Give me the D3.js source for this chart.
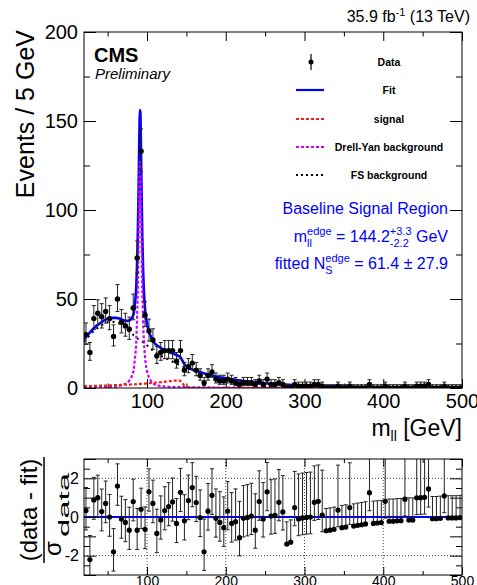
<html>
<head>
<script src="https://d3js.org/d3.v7.min.js"></script>
<style>
    html, body { margin: 0; padding: 0; background: #fff; }
    svg { display: block; font-family: "Liberation Sans", Arial, Helvetica, sans-serif; }
    text { white-space: pre; }
</style>
</head>
<body>
<script>
    var width = 477;
    var height = 585;

    // 5 GeV bins from 20 to 500 GeV
    var binWidth = 5;
    var binCenters = d3.range(20 + binWidth / 2, 500, binWidth);

    // observed events per bin
    var dataCounts = [30, 20, 39, 42, 40, 43, 39, 29, 50, 37,
                      35, 33, 45, 73, 133, 41, 32, 27, 18, 20,
                      21, 21, 21, 15, 21, 10, 12, 14, 10, 7,
                      3, 7, 9, 5, 4, 4, 5, 4, 3, 2,
                      3, 3, 3, 2, 4, 2, 5, 2, 2, 3,
                      2, 0, 0, 2, 1, 1, 1, 1, 2, 2,
                      1, 0, 0, 0, 1, 0, 0, 1, 0, 0,
                      0, 0, 2, 0, 0, 0, 1, 0, 0, 0,
                      0, 1, 0, 0, 1, 1, 1, 2, 0, 0,
                      0, 1, 0, 0, 0, 0];

    // (data - fit) / sigma_data per bin
    var pulls = [0.33, -2.2, 0.88, 1.0, 0.28, 0.7, 0.0, -1.8, 1.6, -0.1,
                 -0.28, -0.68, 0.8, -0.68, 0.4, -0.64, 1.3, 0.7, -0.85, -0.15,
                 0.33, 0.54, 0.78, -0.33, 1.28, -0.2, 0.85, 1.52, 0.75, -0.03,
                 -1.8, 0.3, 1.12, -0.07, -0.28, -0.55, 0.31, -0.33, -0.24, -1.07,
                 -0.07, -0.02, 0.05, -0.68, 0.8, -0.1, 1.3, 0.05, 0.09, 0.76,
                 0.26, -1.4, -1.3, 0.48, -0.1, -0.05, -0.02, 0.0, 0.76, 0.81,
                 0.1, -0.71, -0.68, -0.64, 0.36, -0.55, -0.52, 0.48, -0.47, -0.43,
                 -0.4, -0.36, 1.26, -0.33, -0.31, -0.29, 0.81, -0.22, -0.22, -0.2,
                 -0.19, 0.92, -0.16, -0.16, 0.99, 1.0, 1.02, 1.45, -0.09, -0.09,
                 -0.07, 1.09, -0.05, -0.05, -0.05, -0.03];

    // fit curves sampled along m_ll
    var curveMass = [20, 25, 30, 35, 40, 45, 50, 55, 60, 65,
                     70, 75, 78, 81, 83, 85, 86, 87, 88, 89,
                     90, 90.5, 91, 91.5, 92, 93, 94, 95, 96, 97,
                     98, 100, 102, 105, 110, 115, 120, 125, 130, 135,
                     140, 142, 144, 146, 148, 150, 155, 160, 170, 180,
                     190, 200, 220, 240, 260, 280, 300, 325, 350, 375,
                     400, 425, 450, 475, 500];
    var fitCurve = [27.3, 29.9, 32.5, 34.6, 36.2, 37.8, 38.9, 39.4, 39.4, 39.1,
                    38.1, 37.7, 38.1, 39.4, 41.7, 48.9, 53.5, 64.3, 79, 101.7,
                    133.5, 147.4, 156.2, 155.1, 146, 113.8, 85.5, 67.1, 54.9, 47.5,
                    42.2, 36.1, 32.4, 28.8, 25, 23.3, 21.8, 20.9, 19.8, 19,
                    18, 17.4, 16.2, 14.6, 13.1, 12.2, 10.9, 10, 8.55, 7.3,
                    6.25, 5.4, 4.05, 3.12, 2.4, 1.83, 1.4, 0.99, 0.69, 0.48,
                    0.33, 0.23, 0.16, 0.11, 0.08];
    var signalCurve = [1.0, 1.05, 1.1, 1.2, 1.3, 1.35, 1.4, 1.5, 1.6, 1.7,
                       1.8, 1.9, 1.95, 2.0, 2.05, 2.1, 2.1, 2.15, 2.2, 2.2,
                       2.25, 2.25, 2.3, 2.3, 2.3, 2.35, 2.4, 2.4, 2.45, 2.5,
                       2.5, 2.6, 2.7, 2.8, 3.0, 3.2, 3.4, 3.65, 3.9, 4.15,
                       4.3, 4.1, 3.3, 2.1, 1.0, 0.4, 0.08, 0.02, 0, 0,
                       0, 0, 0, 0, 0, 0, 0, 0, 0, 0,
                       0, 0, 0, 0, 0];
    var dyCurve = [0.3, 0.3, 0.35, 0.35, 0.4, 0.45, 0.5, 0.6, 0.8, 1.2,
                   1.8, 3, 4.5, 7, 10, 18, 23, 34, 49, 72,
                   104, 118, 127, 126, 117, 85, 57, 39, 27, 20,
                   15, 9.5, 6.5, 4, 2, 1.3, 0.9, 0.75, 0.6, 0.55,
                   0.5, 0.5, 0.48, 0.47, 0.46, 0.45, 0.42, 0.4, 0.35, 0.3,
                   0.25, 0.2, 0.15, 0.12, 0.1, 0.08, 0.05, 0.04, 0.03, 0.02,
                   0.02, 0.01, 0.01, 0.01, 0.01];
    var fsCurve = [26, 28.5, 31, 33, 34.5, 36, 37, 37.3, 37, 36.2,
                   34.5, 32.8, 31.6, 30.4, 29.6, 28.8, 28.4, 28.1, 27.8, 27.5,
                   27.2, 27.1, 26.9, 26.8, 26.7, 26.4, 26.1, 25.7, 25.4, 25.0,
                   24.7, 24, 23.2, 22, 20, 18.8, 17.5, 16.5, 15.3, 14.3,
                   13.2, 12.8, 12.4, 12.0, 11.6, 11.3, 10.4, 9.6, 8.2, 7.0,
                   6.0, 5.2, 3.9, 3.0, 2.3, 1.75, 1.35, 0.95, 0.66, 0.46,
                   0.32, 0.22, 0.15, 0.1, 0.07];

    var xTicksMajor = [100, 200, 300, 400, 500];
    var xTicksMinor = [50, 150, 250, 350, 450];
    var yTicksMajor = [0, 50, 100, 150, 200];
    var yTicksMinor = [25, 75, 125, 175];
    var ratioTicksMajor = [-3, -2, -1, 0, 1, 2, 3];
    var ratioTicksMinor = [-2.5, -1.5, -0.5, 0.5, 1.5, 2.5];
    var ratioGridY = [-2, 2];
    var ratioGridX = [100, 200, 300, 400];

    var legendLabels = ["Data", "Fit", "signal", "Drell-Yan background", "FS background"];

    var BLUE = "#0000ff", RED = "#ff1a1a", VIOLET = "#cc00ff";

    var svg = d3.select("body").append("svg")
        .attr("width", width)
        .attr("height", height);

    var x = d3.scaleLinear().domain([20, 500]).range([84, 462]);
    var y = d3.scaleLinear().domain([0, 200]).range([388, 32]);
    var yr = d3.scaleLinear().domain([-3, 3]).range([575, 459]);

    var defs = svg.append("defs");
    defs.append("clipPath").attr("id", "clipMain").append("rect")
        .attr("x", 84).attr("y", 32).attr("width", 378).attr("height", 356);
    defs.append("clipPath").attr("id", "clipRatio").append("rect")
        .attr("x", 84).attr("y", 459).attr("width", 378).attr("height", 116);

    // poisson-ish error bars (Gehrels approximation)
    function errHi(n) { return 1 + Math.sqrt(n + 0.75); }
    function errLo(n) { return n > 0 ? Math.sqrt(n - 0.25) : 0; }

    function styleAxis(g, size) {
        g.select(".domain").remove();
        g.selectAll("line").attr("stroke", "#000");
        g.selectAll("text")
            .attr("font-family", "Liberation Sans, Arial, sans-serif")
            .attr("font-size", size)
            .attr("fill", "#000");
    }

    // ---------- main plot ----------
    var main = svg.append("g");

    // axes (ticks pointing inward)
    main.append("g").attr("transform", "translate(0,388)")
        .call(d3.axisBottom(x).tickValues(xTicksMajor).tickSize(-9).tickPadding(6))
        .call(styleAxis, 20);
    main.append("g").attr("transform", "translate(0,388)")
        .call(d3.axisBottom(x).tickValues(xTicksMinor).tickSize(-4.5).tickFormat(""))
        .call(styleAxis, 20);
    main.append("g").attr("transform", "translate(0,32)")
        .call(d3.axisTop(x).tickValues(xTicksMajor).tickSize(-9).tickFormat(""))
        .call(styleAxis, 20);
    main.append("g").attr("transform", "translate(0,32)")
        .call(d3.axisTop(x).tickValues(xTicksMinor).tickSize(-4.5).tickFormat(""))
        .call(styleAxis, 20);
    main.append("g").attr("transform", "translate(84,0)")
        .call(d3.axisLeft(y).tickValues(yTicksMajor).tickSize(-12).tickPadding(6))
        .call(styleAxis, 20);
    main.append("g").attr("transform", "translate(84,0)")
        .call(d3.axisLeft(y).tickValues(yTicksMinor).tickSize(-6).tickFormat(""))
        .call(styleAxis, 20);
    main.append("g").attr("transform", "translate(462,0)")
        .call(d3.axisRight(y).tickValues(yTicksMajor).tickSize(-12).tickFormat(""))
        .call(styleAxis, 20);
    main.append("g").attr("transform", "translate(462,0)")
        .call(d3.axisRight(y).tickValues(yTicksMinor).tickSize(-6).tickFormat(""))
        .call(styleAxis, 20);

    var plotArea = main.append("g").attr("clip-path", "url(#clipMain)");

    function curveLine(values) {
        return d3.line()
            .x(function (d, i) { return x(curveMass[i]); })
            .y(function (d) { return y(d); })
            .curve(d3.curveMonotoneX)(values);
    }

    plotArea.append("path").attr("d", curveLine(fsCurve))
        .attr("fill", "none").attr("stroke", "#000").attr("stroke-width", 2)
        .attr("stroke-dasharray", "2,4");
    plotArea.append("path").attr("d", curveLine(fitCurve))
        .attr("fill", "none").attr("stroke", BLUE).attr("stroke-width", 2.6);
    plotArea.append("path").attr("d", curveLine(dyCurve))
        .attr("fill", "none").attr("stroke", VIOLET).attr("stroke-width", 2.2)
        .attr("stroke-dasharray", "3,2");
    plotArea.append("path").attr("d", curveLine(signalCurve))
        .attr("fill", "none").attr("stroke", RED).attr("stroke-width", 2.2)
        .attr("stroke-dasharray", "3,2");

    // data points
    var pts = plotArea.selectAll(".pt").data(dataCounts).enter().append("g");
    pts.append("line")
        .attr("x1", function (d, i) { return x(binCenters[i]); })
        .attr("x2", function (d, i) { return x(binCenters[i]); })
        .attr("y1", function (d) { return y(d + errHi(d)); })
        .attr("y2", function (d) { return y(d - errLo(d)); })
        .attr("stroke", "#222").attr("stroke-width", 1);
    pts.append("line")
        .attr("x1", function (d, i) { return x(binCenters[i]) - 2; })
        .attr("x2", function (d, i) { return x(binCenters[i]) + 2; })
        .attr("y1", function (d) { return y(d + errHi(d)); })
        .attr("y2", function (d) { return y(d + errHi(d)); })
        .attr("stroke", "#222").attr("stroke-width", 1);
    pts.append("line")
        .attr("x1", function (d, i) { return x(binCenters[i]) - 2; })
        .attr("x2", function (d, i) { return x(binCenters[i]) + 2; })
        .attr("y1", function (d) { return y(d - errLo(d)); })
        .attr("y2", function (d) { return y(d - errLo(d)); })
        .attr("stroke", "#222").attr("stroke-width", 1);
    pts.append("circle")
        .attr("cx", function (d, i) { return x(binCenters[i]); })
        .attr("cy", function (d) { return y(d); })
        .attr("r", 2.7).attr("fill", "#000");

    main.append("rect").attr("x", 84).attr("y", 32).attr("width", 378).attr("height", 356)
        .attr("fill", "none").attr("stroke", "#000").attr("stroke-width", 1);

    // rich text helper: pieces placed left to right, stacked sub/sup share x
    function richText(parent, pieces, xRight, baseline, color, weight) {
        var grp = parent.append("g");
        var cursor = 0, prevStart = 0;
        pieces.forEach(function (p) {
            var startX = p.stack ? prevStart : cursor;
            var t = grp.append("text")
                .attr("x", startX).attr("y", baseline + (p.dy || 0))
                .attr("font-size", p.size).attr("fill", color)
                .attr("font-weight", weight || "normal")
                .text(p.t);
            var w = t.node().getComputedTextLength();
            if (p.stack) {
                cursor = Math.max(cursor, startX + w);
            } else {
                prevStart = startX;
                cursor = startX + w;
            }
        });
        grp.attr("transform", "translate(" + (xRight - cursor) + ",0)");
        return grp;
    }

    // header texts
    richText(svg, [
        { t: "35.9 fb", size: 16 },
        { t: "-1", size: 11, dy: -6 },
        { t: " (13 TeV)", size: 16 }
    ], 470, 22, "#000");

    svg.append("text").attr("x", 94).attr("y", 62)
        .attr("font-size", 20).attr("font-weight", "bold").text("CMS");
    svg.append("text").attr("x", 95).attr("y", 79)
        .attr("font-size", 15).attr("font-style", "italic").text("Preliminary");

    // axis titles
    svg.append("text")
        .attr("transform", "translate(34,30) rotate(-90)")
        .attr("text-anchor", "end")
        .attr("font-size", 25)
        .text("Events / 5 GeV");

    richText(svg, [
        { t: "m", size: 23 },
        { t: "ll", size: 14, dy: 5 },
        { t: " [GeV]", size: 23 }
    ], 462, 436, "#000");

    // legend
    var legendY = [62, 90, 119, 147, 175];
    var leg = svg.append("g");
    leg.append("line").attr("x1", 311).attr("x2", 311)
        .attr("y1", legendY[0] - 8).attr("y2", legendY[0] + 8)
        .attr("stroke", "#000").attr("stroke-width", 1.2);
    leg.append("circle").attr("cx", 311).attr("cy", legendY[0]).attr("r", 2.5);
    leg.append("line").attr("x1", 296).attr("x2", 324).attr("y1", legendY[1]).attr("y2", legendY[1])
        .attr("stroke", BLUE).attr("stroke-width", 2.2);
    leg.append("line").attr("x1", 296).attr("x2", 324).attr("y1", legendY[2]).attr("y2", legendY[2])
        .attr("stroke", RED).attr("stroke-width", 2).attr("stroke-dasharray", "3,2");
    leg.append("line").attr("x1", 296).attr("x2", 324).attr("y1", legendY[3]).attr("y2", legendY[3])
        .attr("stroke", VIOLET).attr("stroke-width", 2).attr("stroke-dasharray", "3,2");
    leg.append("line").attr("x1", 296).attr("x2", 324).attr("y1", legendY[4]).attr("y2", legendY[4])
        .attr("stroke", "#000").attr("stroke-width", 2).attr("stroke-dasharray", "2,3");
    leg.selectAll(".lab").data(legendLabels).enter().append("text")
        .attr("x", 389)
        .attr("y", function (d, i) { return legendY[i] + 4; })
        .attr("text-anchor", "middle")
        .attr("font-size", 10.5)
        .attr("font-weight", "bold")
        .text(function (d) { return d; });

    // fit result text
    richText(svg, [{ t: "Baseline Signal Region", size: 16 }], 448, 214, BLUE);
    richText(svg, [
        { t: "m", size: 16 },
        { t: "ll", size: 11, dy: 5 },
        { t: "edge", size: 11, dy: -7, stack: true },
        { t: " = 144.2", size: 16 },
        { t: "+3.3", size: 11, dy: -7 },
        { t: "-2.2", size: 11, dy: 5, stack: true },
        { t: " GeV", size: 16 }
    ], 448, 242, BLUE);
    richText(svg, [
        { t: "fitted N", size: 16 },
        { t: "S", size: 11, dy: 5 },
        { t: "edge", size: 11, dy: -7, stack: true },
        { t: " = 61.4 \u00b1 27.9", size: 16 }
    ], 448, 269, BLUE);

    // ---------- ratio panel ----------
    var ratio = svg.append("g");

    ratio.selectAll(".gx").data(ratioGridX).enter().append("line")
        .attr("x1", function (d) { return x(d); }).attr("x2", function (d) { return x(d); })
        .attr("y1", 459).attr("y2", 575)
        .attr("stroke", "#444").attr("stroke-width", 1).attr("stroke-dasharray", "1,2");
    ratio.selectAll(".gy").data(ratioGridY).enter().append("line")
        .attr("x1", 84).attr("x2", 462)
        .attr("y1", function (d) { return yr(d); }).attr("y2", function (d) { return yr(d); })
        .attr("stroke", "#444").attr("stroke-width", 1).attr("stroke-dasharray", "1,2");

    ratio.append("line").attr("x1", 84).attr("x2", 462)
        .attr("y1", yr(0)).attr("y2", yr(0))
        .attr("stroke", BLUE).attr("stroke-width", 2);

    ratio.append("g").attr("transform", "translate(0,575)")
        .call(d3.axisBottom(x).tickValues(xTicksMajor).tickSize(-8).tickPadding(1))
        .call(styleAxis, 14);
    ratio.append("g").attr("transform", "translate(0,575)")
        .call(d3.axisBottom(x).tickValues(xTicksMinor).tickSize(-4).tickFormat(""))
        .call(styleAxis, 14);
    ratio.append("g").attr("transform", "translate(0,459)")
        .call(d3.axisTop(x).tickValues(xTicksMajor).tickSize(-8).tickFormat(""))
        .call(styleAxis, 14);
    ratio.append("g").attr("transform", "translate(0,459)")
        .call(d3.axisTop(x).tickValues(xTicksMinor).tickSize(-4).tickFormat(""))
        .call(styleAxis, 14);
    ratio.append("g").attr("transform", "translate(84,0)")
        .call(d3.axisLeft(yr).tickValues(ratioTicksMajor).tickSize(-12).tickPadding(5)
            .tickFormat(function (d) { return d % 2 === 0 ? String(d) : ""; }))
        .call(styleAxis, 16);
    ratio.append("g").attr("transform", "translate(84,0)")
        .call(d3.axisLeft(yr).tickValues(ratioTicksMinor).tickSize(-6).tickFormat(""))
        .call(styleAxis, 16);
    ratio.append("g").attr("transform", "translate(462,0)")
        .call(d3.axisRight(yr).tickValues(ratioTicksMajor).tickSize(-12).tickFormat(""))
        .call(styleAxis, 16);
    ratio.append("g").attr("transform", "translate(462,0)")
        .call(d3.axisRight(yr).tickValues(ratioTicksMinor).tickSize(-6).tickFormat(""))
        .call(styleAxis, 16);

    var ratioArea = ratio.append("g").attr("clip-path", "url(#clipRatio)");
    function pullUp(i) {
        var n = dataCounts[i];
        return n > 0 ? errHi(n) / Math.sqrt(n) : 1.15;
    }
    function pullDown(i) {
        var n = dataCounts[i];
        return n > 0 ? errLo(n) / Math.sqrt(n) : 0;
    }
    var rp = ratioArea.selectAll(".rp").data(pulls).enter().append("g");
    rp.append("line")
        .attr("x1", function (d, i) { return x(binCenters[i]); })
        .attr("x2", function (d, i) { return x(binCenters[i]); })
        .attr("y1", function (d, i) { return yr(d + pullUp(i)); })
        .attr("y2", function (d, i) { return yr(d - pullDown(i)); })
        .attr("stroke", "#222").attr("stroke-width", 1);
    rp.append("line")
        .attr("x1", function (d, i) { return x(binCenters[i]) - 2; })
        .attr("x2", function (d, i) { return x(binCenters[i]) + 2; })
        .attr("y1", function (d, i) { return yr(d + pullUp(i)); })
        .attr("y2", function (d, i) { return yr(d + pullUp(i)); })
        .attr("stroke", "#222").attr("stroke-width", 1);
    rp.append("line")
        .attr("x1", function (d, i) { return x(binCenters[i]) - 2; })
        .attr("x2", function (d, i) { return x(binCenters[i]) + 2; })
        .attr("y1", function (d, i) { return yr(d - pullDown(i)); })
        .attr("y2", function (d, i) { return yr(d - pullDown(i)); })
        .attr("stroke", "#222").attr("stroke-width", 1);
    rp.append("circle")
        .attr("cx", function (d, i) { return x(binCenters[i]); })
        .attr("cy", function (d) { return yr(d); })
        .attr("r", 2.6).attr("fill", "#000");

    ratio.append("rect").attr("x", 84).attr("y", 459).attr("width", 378).attr("height", 116)
        .attr("fill", "none").attr("stroke", "#000").attr("stroke-width", 1);

    // ratio y title as a fraction
    var frac = svg.append("g").attr("transform", "translate(0,510) rotate(-90)");
    frac.append("text").attr("x", 0).attr("y", 37)
        .attr("text-anchor", "middle").attr("font-size", 24)
        .text("(data - fit)");
    frac.append("line").attr("x1", -53).attr("x2", 53).attr("y1", 44).attr("y2", 44)
        .attr("stroke", "#000").attr("stroke-width", 1.5);
    frac.append("text").attr("x", -46).attr("y", 61)
        .attr("font-size", 24).text("\u03c3");
    frac.append("text").attr("x", -27).attr("y", 69)
        .attr("font-size", 15)
        .attr("textLength", 64).attr("lengthAdjust", "spacingAndGlyphs")
        .text("data");
</script>
</body>
</html>
